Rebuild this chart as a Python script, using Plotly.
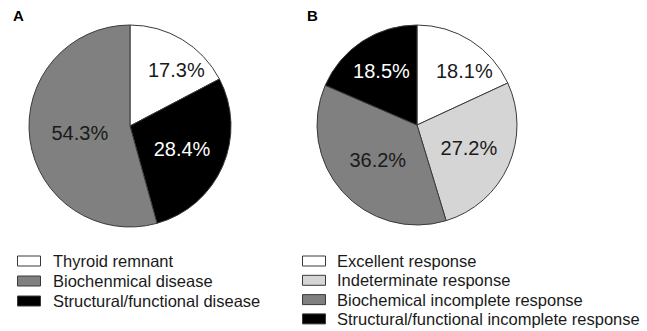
import math
import plotly.graph_objects as go

W, H = 647, 331

# Panel A
labels_a = ["Thyroid remnant", "Structural/functional disease", "Biochenmical disease"]
values_a = [17.3, 28.4, 54.3]
colors_a = ["#ffffff", "#000000", "#808080"]
textcol_a = ["#1a1a1a", "#ffffff", "#1a1a1a"]
legend_a = ["Thyroid remnant", "Biochenmical disease", "Structural/functional disease"]
legend_a_colors = ["#ffffff", "#808080", "#000000"]

# Panel B
labels_b = ["Excellent response", "Indeterminate response",
            "Biochemical incomplete response", "Structural/functional incomplete response"]
values_b = [18.1, 27.2, 36.2, 18.5]
colors_b = ["#ffffff", "#d4d5d4", "#808080", "#000000"]
textcol_b = ["#1a1a1a", "#1a1a1a", "#1a1a1a", "#ffffff"]
legend_b = labels_b
legend_b_colors = colors_b

FONT = "Arial, Liberation Sans, sans-serif"

def px_x(p):
    return p / W

def px_y(p):
    return 1 - p / H

fig = go.Figure()
annotations = []
shapes = []

def add_pie(labels, values, colors, tcols, cx, cy, r):
    # first (small, top-right) slice label is placed as annotation, others inside
    positions = ["none"] + ["inside"] * (len(values) - 1)
    fig.add_trace(go.Pie(
        labels=labels, values=values, sort=False, direction="clockwise", rotation=0,
        marker=dict(colors=colors, line=dict(color="#3a3a3a", width=1)),
        texttemplate="%{value:.1f}%", textinfo="text", textposition=positions,
        insidetextorientation="horizontal",
        insidetextfont=dict(family=FONT, size=20, color=tcols),
        showlegend=False, hoverinfo="label+value",
        domain=dict(x=[px_x(cx - r), px_x(cx + r)], y=[px_y(cy + r), px_y(cy - r)]),
    ))
    total = sum(values)
    ang = math.radians(values[0] / 2 / total * 360 + 8.7)
    lx = cx + 0.72 * r * math.sin(ang)
    ly = cy - 0.72 * r * math.cos(ang)
    annotations.append(dict(xref="paper", yref="paper", x=px_x(lx), y=px_y(ly),
                            xanchor="center", yanchor="middle", showarrow=False,
                            text=f"{values[0]:.1f}%",
                            font=dict(family=FONT, size=20, color=tcols[0])))

add_pie(labels_a, values_a, colors_a, textcol_a, 130, 126, 101)
add_pie(labels_b, values_b, colors_b, textcol_b, 417, 125, 100)

def add_legend(items, cols, box_x, text_x, y0, dy):
    for i, (t, c) in enumerate(zip(items, cols)):
        yc = y0 + i * dy
        shapes.append(dict(type="rect", xref="paper", yref="paper",
                           x0=px_x(box_x), x1=px_x(box_x + 23),
                           y0=px_y(yc + 5), y1=px_y(yc - 5),
                           fillcolor=c, line=dict(color="#3a3a3a", width=1)))
        annotations.append(dict(xref="paper", yref="paper", x=px_x(text_x), y=px_y(yc),
                                xanchor="left", yanchor="middle", showarrow=False,
                                text=t, font=dict(family=FONT, size=16.5, color="#1a1a1a")))

add_legend(legend_a, legend_a_colors, 17.5, 51, 261, 20)
add_legend(legend_b, legend_b_colors, 302.5, 335, 261, 19.3)

annotations.append(dict(xref="paper", yref="paper", x=px_x(18), y=px_y(15.5),
                        xanchor="center", yanchor="middle", showarrow=False,
                        text="<b>A</b>", font=dict(family=FONT, size=15, color="#000000")))
annotations.append(dict(xref="paper", yref="paper", x=px_x(312), y=px_y(15.5),
                        xanchor="center", yanchor="middle", showarrow=False,
                        text="<b>B</b>", font=dict(family=FONT, size=15, color="#000000")))

fig.update_layout(width=W, height=H, margin=dict(l=0, r=0, t=0, b=0),
                  paper_bgcolor="white", plot_bgcolor="white",
                  shapes=shapes, annotations=annotations, showlegend=False)

fig.write_html("out.html", config={"displayModeBar": False},
               post_script="document.body.style.margin='0px';")
